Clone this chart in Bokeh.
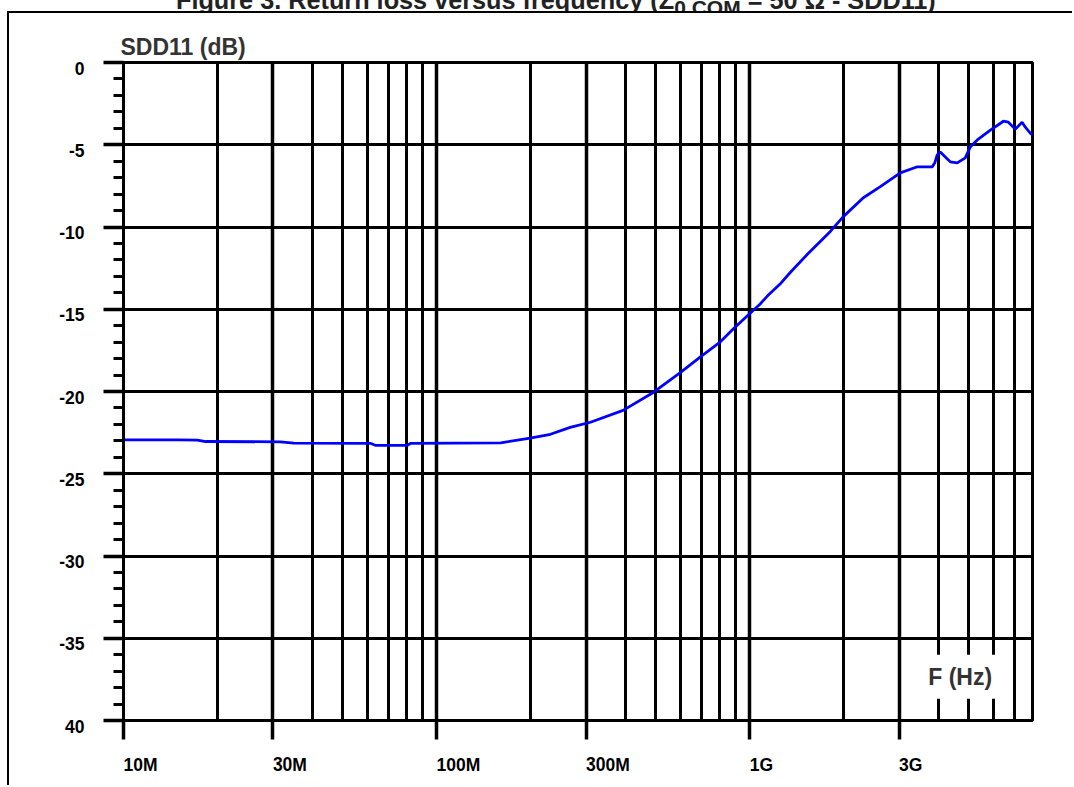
from bokeh.plotting import figure
from bokeh.models import FixedTicker, Label, Range1d, Div
from bokeh.layouts import column
from bokeh.embed import file_html
from bokeh.resources import INLINE

# ---- data ----
freq_hz = [1.0e7, 1.5e7, 1.72e7, 1.83e7, 3.17e7, 3.5e7, 6.14e7, 6.37e7, 8.07e7, 8.25e7,
           1.6e8, 1.99e8, 2.31e8, 2.67e8, 3.10e8, 3.94e8, 4.92e8, 6.00e8, 6.96e8, 8.06e8,
           8.87e8, 9.97e8, 1.08e9, 1.138e9, 1.25e9, 1.349e9, 1.528e9, 1.809e9, 1.99e9, 2.306e9,
           2.613e9, 3.026e9, 3.43e9, 3.83e9, 3.90e9, 3.97e9, 4.06e9, 4.31e9, 4.37e9, 4.60e9,
           4.88e9, 5.06e9, 5.33e9, 5.87e9, 6.46e9, 6.70e9, 7.05e9, 7.41e9, 7.59e9, 7.87e9, 8.0e9]
sdd11_db = [-22.94, -22.94, -22.95, -23.04, -23.06, -23.14, -23.15, -23.27, -23.27, -23.15,
            -23.12, -22.84, -22.60, -22.18, -21.87, -21.15, -20.06, -18.85, -17.89, -16.98,
            -16.19, -15.29, -14.68, -14.20, -13.47, -12.75, -11.66, -10.27, -9.37, -8.22,
            -7.55, -6.71, -6.34, -6.34, -6.10, -5.62, -5.44, -5.92, -6.04, -6.10,
            -5.80, -5.14, -4.71, -4.11, -3.57, -3.63, -4.05, -3.63, -3.93, -4.29, -4.40]

x_major_ticks = [1e7, 3e7, 1e8, 3e8, 1e9, 3e9]
x_major_labels = ["10M", "30M", "100M", "300M", "1G", "3G"]
x_minor_ticks = [2e7, 4e7, 5e7, 6e7, 7e7, 8e7, 9e7,
                 2e8, 4e8, 5e8, 6e8, 7e8, 8e8, 9e8,
                 2e9, 4e9, 5e9, 6e9, 7e9]
y_major_ticks = [0, -5, -10, -15, -20, -25, -30, -35, -40]
y_major_labels = ["0", "-5", "-10", "-15", "-20", "-25", "-30", "-35", "40"]
y_minor_ticks = list(range(-40, 1))

figure_title = "Figure 3. Return loss versus frequency (Z<sub>0 COM</sub> = 50 &Omega; - SDD11)"
y_title = "SDD11 (dB)"
x_title = "F (Hz)"

FONT = "Liberation Sans"

# cropped figure caption above the frame (only its lower edge is visible, as in the reference)
cap = Div(text=('<div style="position:relative; left:176px; top:-12px; white-space:nowrap; '
                'font-family:\'Liberation Sans\'; font-weight:bold; font-size:25px; '
                'line-height:25px; color:#222; transform:scaleX(1.01); transform-origin:left;">'
                + figure_title + '</div>'),
          width=1074, height=11, margin=0,
          styles={"overflow": "hidden", "padding": "0", "margin": "0"})

p = figure(width=1065, height=774, x_axis_type="log",
           x_range=Range1d(1e7, 8e9), y_range=Range1d(-40, 0),
           output_backend="svg", toolbar_location=None,
           min_border_left=114, min_border_right=42,
           min_border_top=49, min_border_bottom=63,
           title=y_title)
p.margin = (0, 0, 0, 7)
p.styles = {"border-left": "2px solid black", "border-top": "2px solid black"}
p.background_fill_color = "white"
p.border_fill_color = "white"
p.outline_line_color = "black"
p.outline_line_width = 3

p.title.align = "left"
p.title.offset = -3
p.title.standoff = 6
p.title.text_font = FONT
p.title.text_font_style = "bold"
p.title.text_font_size = "23px"
p.title.text_color = "#333333"

xt = FixedTicker(ticks=x_major_ticks, minor_ticks=x_minor_ticks)
yt = FixedTicker(ticks=y_major_ticks, minor_ticks=y_minor_ticks)
p.xaxis.ticker = xt
p.xgrid.ticker = xt
p.yaxis.ticker = yt
p.ygrid.ticker = yt

p.xgrid.grid_line_color = "black"
p.xgrid.grid_line_width = 3.5
p.xgrid.minor_grid_line_color = "black"
p.xgrid.minor_grid_line_width = 3
p.ygrid.grid_line_color = "black"
p.ygrid.grid_line_width = 3
p.ygrid.minor_grid_line_color = None

for ax in (p.xaxis[0], p.yaxis[0]):
    ax.axis_line_color = "black"
    ax.axis_line_width = 3
    ax.major_tick_line_color = "black"
    ax.major_tick_line_width = 3.5
    ax.major_tick_in = 0
    ax.major_label_text_font = FONT
    ax.major_label_text_font_style = "bold"
    ax.major_label_text_font_size = "17.5px"
    ax.major_label_text_color = "black"

xa = p.xaxis[0]
xa.major_tick_out = 19
xa.minor_tick_line_color = None
xa.minor_tick_out = 0
xa.minor_tick_in = 0
xa.major_label_standoff = 25
xa.major_label_orientation = -1e-6
xa.major_label_overrides = {t: l for t, l in zip(x_major_ticks, x_major_labels)}

ya = p.yaxis[0]
ya.major_tick_out = 20
ya.minor_tick_out = 10
ya.minor_tick_in = 0
ya.minor_tick_line_color = "black"
ya.minor_tick_line_width = 3
ya.major_label_standoff = 19
# labels sit slightly below their grid line in the reference: an empty first line
# with a tight line height moves each label down by about 6 px
ya.major_label_text_line_height = 0.6
ya.major_label_overrides = {t: "\n" + l for t, l in zip(y_major_ticks, y_major_labels)}

p.line(freq_hz, sdd11_db, line_color="#0000ff", line_width=2.8)

p.add_layout(Label(x=4.7e9, y=-37.34, text=x_title, text_align="center",
                   text_baseline="middle", text_font=FONT, text_font_style="bold",
                   text_font_size="23px", text_color="#333333",
                   background_fill_color="white", padding=9))

layout = column(cap, p, spacing=0, margin=0)
open("out.html", "w").write(file_html(layout, INLINE))
